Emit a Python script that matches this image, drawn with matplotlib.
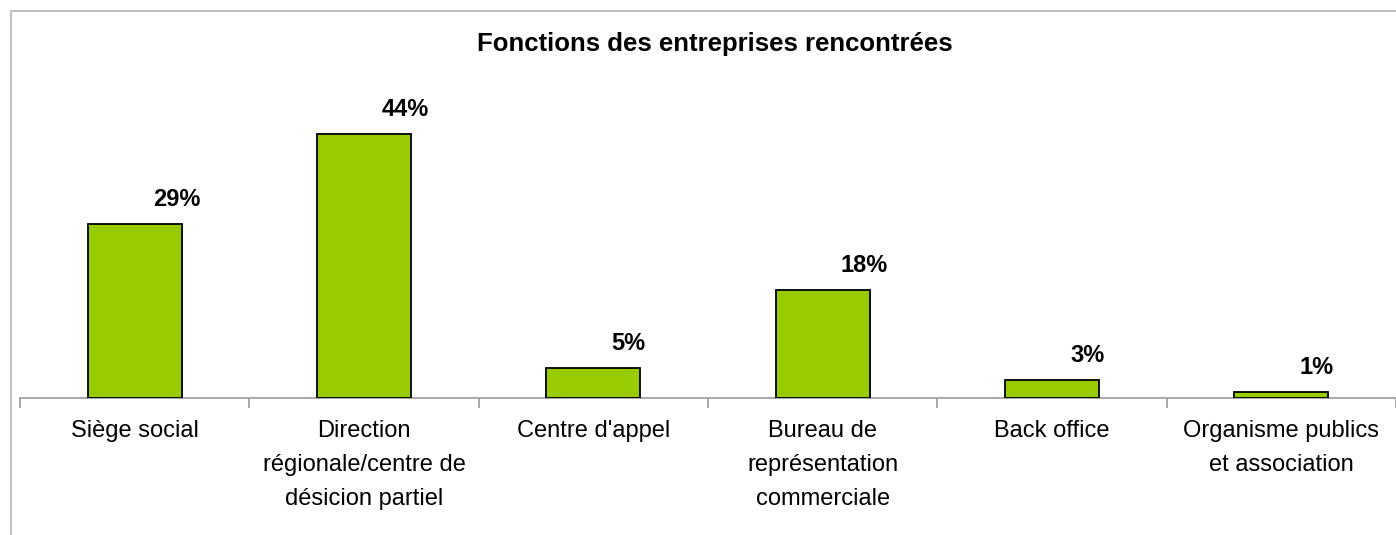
import matplotlib
matplotlib.use("Agg")
import matplotlib.pyplot as plt
from matplotlib.patches import Rectangle
from matplotlib.ticker import FixedLocator

categories = ["Siège social", "Direction\nrégionale/centre de\ndésicion partiel",
              "Centre d'appel", "Bureau de\nreprésentation\ncommerciale",
              "Back office", "Organisme publics\net association"]
values = [29, 44, 5, 18, 3, 1]
labels = ["29%", "44%", "5%", "18%", "3%", "1%"]
title = "Fonctions des entreprises rencontrées"

plt.rcParams['font.family'] = ['Liberation Sans', 'DejaVu Sans']

W, H = 1396, 535
fig = plt.figure(figsize=(W / 100, H / 100), dpi=100)

# outer frame (cut at right and bottom)
fig.patches.append(Rectangle((11 / W, -0.1), 2, 1 - 11 / H + 0.1, transform=fig.transFigure,
                             fill=False, edgecolor="#BFBFBF", linewidth=1.4))

ax_left, ax_right = 20 / W, 1.0
ax_bottom = 1 - 398 / H
ax_top = 1 - 98 / H
ax = fig.add_axes([ax_left, ax_bottom, ax_right - ax_left, ax_top - ax_bottom])

x = list(range(len(categories)))
ax.bar(x, values, width=0.41, color="#99CC00", edgecolor="black", linewidth=1.3, zorder=3)
ax.set_xlim(-0.5, len(categories) - 0.5)
ax.set_ylim(0, 50)

for xi, v, lab in zip(x, values, labels):
    ax.annotate(lab, (xi, v), xytext=(18, 25), textcoords="offset pixels",
                ha="left", va="center", fontsize=17, fontweight="bold", color="black")

ax.set_yticks([])
for s in ["top", "left", "right"]:
    ax.spines[s].set_visible(False)
ax.spines["bottom"].set_color("#999999")
ax.spines["bottom"].set_linewidth(1.2)

ax.set_xticks(x)
ax.set_xticklabels(categories, fontsize=17, linespacing=1.7, va="top")
ax.tick_params(axis="x", which="major", length=0, pad=16)
ax.xaxis.set_minor_locator(FixedLocator([i - 0.5 for i in range(len(categories) + 1)]))
ax.tick_params(axis="x", which="minor", length=7, width=1.2, color="#999999", direction="out")

fig.text((475 + 955) / 2 / W, 1 - 44 / H, title, ha="center", va="center",
         fontsize=18.5, fontweight="bold")

fig.savefig("out.png", dpi=100)
